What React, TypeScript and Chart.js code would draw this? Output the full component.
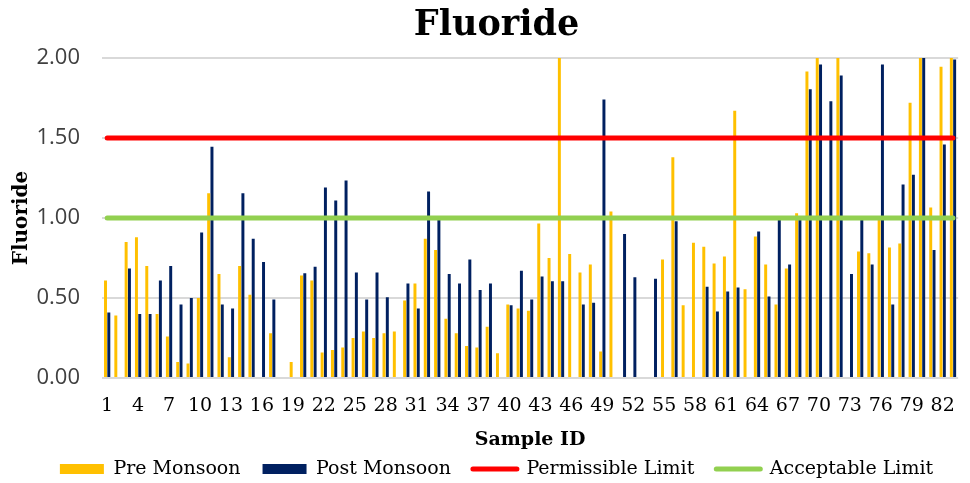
import { useEffect, useRef } from "react";
import { Chart, registerables } from "chart.js";

Chart.register(...registerables);

const SAMPLE_IDS = [
  "1", "2", "3", "4", "5", "6", "7", "8", "9", "10",
  "11", "12", "13", "14", "15", "16", "17", "18", "19", "20",
  "21", "22", "23", "24", "25", "26", "27", "28", "29", "30",
  "31", "32", "33", "34", "35", "36", "37", "38", "39", "40",
  "41", "42", "43", "44", "45", "46", "47", "48", "49", "50",
  "51", "52", "53", "54", "55", "56", "57", "58", "59", "60",
  "61", "62", "63", "64", "65", "66", "67", "68", "69", "70",
  "71", "72", "73", "74", "75", "76", "77", "78", "79", "80",
  "81", "82", "83",
];

const PRE_MONSOON = [
  0.61, 0.39, 0.85, 0.88, 0.7, 0.4, 0.26, 0.1, 0.09, 0.5,
  1.155, 0.65, 0.13, 0.7, 0.52, 0, 0.28, 0, 0.1, 0.64,
  0.61, 0.16, 0.175, 0.19, 0.25, 0.29, 0.25, 0.28, 0.29, 0.485,
  0.59, 0.87, 0.8, 0.37, 0.28, 0.2, 0.19, 0.32, 0.155, 0.46,
  0.435, 0.42, 0.965, 0.75, 2.0, 0.775, 0.66, 0.71, 0.165, 1.04,
  0, 0, 0, 0, 0.74, 1.38, 0.455, 0.845, 0.82, 0.715,
  0.76, 1.67, 0.555, 0.885, 0.71, 0.46, 0.685, 1.03, 1.915, 2.0,
  0, 2.0, 0, 0.79, 0.78, 0.99, 0.815, 0.84, 1.72, 2.0,
  1.065, 1.945, 2.0,
];

const POST_MONSOON = [
  0.41, 0, 0.685, 0.4, 0.4, 0.61, 0.7, 0.46, 0.5, 0.91,
  1.445, 0.46, 0.435, 1.155, 0.87, 0.725, 0.49, 0, 0, 0.655,
  0.695, 1.19, 1.11, 1.235, 0.66, 0.49, 0.66, 0.505, 0, 0.59,
  0.435, 1.165, 0.99, 0.65, 0.59, 0.74, 0.55, 0.59, 0, 0.455,
  0.67, 0.49, 0.635, 0.605, 0.605, 0, 0.46, 0.47, 1.74, 0,
  0.9, 0.63, 0, 0.62, 0, 0.98, 0, 0, 0.57, 0.415,
  0.54, 0.565, 0, 0.915, 0.51, 0.99, 0.71, 0.99, 1.805, 1.96,
  1.73, 1.89, 0.65, 0.99, 0.71, 1.96, 0.46, 1.21, 1.27, 2.0,
  0.8, 1.46, 1.99,
];

const PERMISSIBLE_LIMIT = 1.5;
const ACCEPTABLE_LIMIT = 1.0;

const Y_MIN = 0;
const Y_MAX = 2;
const Y_STEP = 0.5;

const YELLOW = "#FFC000";
const NAVY = "#002060";
const RED = "#FF0000";
const GREEN = "#92D050";

const SERIF = "DejaVu Serif";

export default function App() {
  const ref = useRef<HTMLCanvasElement>(null);

  useEffect(() => {
    if (!ref.current) return;
    const first = SAMPLE_IDS[0];
    const last = SAMPLE_IDS[SAMPLE_IDS.length - 1];
    const legendColors = [YELLOW, NAVY, RED, GREEN];
    const chart = new Chart(ref.current, {
      type: "bar",
      data: {
        labels: SAMPLE_IDS,
        datasets: [
          {
            type: "bar",
            label: "Pre Monsoon",
            data: PRE_MONSOON,
            backgroundColor: YELLOW,
            categoryPercentage: 0.64,
            barPercentage: 0.9,
            order: 1,
          },
          {
            type: "bar",
            label: "Post Monsoon",
            data: POST_MONSOON,
            backgroundColor: NAVY,
            categoryPercentage: 0.64,
            barPercentage: 0.9,
            order: 1,
          },
          {
            type: "line",
            label: "Permissible Limit",
            data: [
              { x: first, y: PERMISSIBLE_LIMIT },
              { x: last, y: PERMISSIBLE_LIMIT },
            ],
            borderColor: RED,
            backgroundColor: RED,
            borderWidth: 5,
            borderCapStyle: "round",
            pointRadius: 0,
            order: 0,
          },
          {
            type: "line",
            label: "Acceptable Limit",
            data: [
              { x: first, y: ACCEPTABLE_LIMIT },
              { x: last, y: ACCEPTABLE_LIMIT },
            ],
            borderColor: GREEN,
            backgroundColor: GREEN,
            borderWidth: 5,
            borderCapStyle: "round",
            pointRadius: 0,
            order: 0,
          },
        ] as any,
      },
      options: {
        animation: false,
        responsive: true,
        maintainAspectRatio: false,
        devicePixelRatio: 1,
        layout: { padding: { left: 24, right: 1, top: 0, bottom: -5.5 } },
        plugins: {
          tooltip: { enabled: false },
          title: {
            display: true,
            text: "Fluoride",
            color: "#000",
            font: { family: SERIF, size: 35, weight: "bold" },
            padding: { top: 5, bottom: 11 },
          },
          legend: {
            position: "bottom",
            labels: {
              usePointStyle: true,
              pointStyleWidth: 44,
              boxHeight: 10,
              padding: 22,
              color: "#000",
              font: { family: SERIF, size: 19 },
              generateLabels: (c: any) =>
                c.data.datasets.map((ds: any, i: number) => {
                  const isLine = ds.type === "line";
                  return {
                    text: ds.label,
                    datasetIndex: i,
                    fillStyle: legendColors[i],
                    strokeStyle: legendColors[i],
                    lineWidth: isLine ? 5 : 0,
                    lineCap: "round",
                    pointStyle: isLine ? "line" : "rect",
                    hidden: false,
                    fontColor: "#000",
                  };
                }),
            },
          },
        },
        scales: {
          x: {
            grid: { display: false, drawTicks: false },
            border: { display: false },
            ticks: {
              autoSkip: false,
              maxRotation: 0,
              minRotation: 0,
              padding: 17,
              color: "#000",
              font: { family: SERIF, size: 19 },
              callback: (_v: any, i: number) => (i % 3 === 0 ? SAMPLE_IDS[i] : ""),
            },
            title: {
              display: true,
              text: "Sample ID",
              color: "#000",
              font: { family: SERIF, size: 19, weight: "bold" },
              padding: { top: 0, bottom: -13.9 },
            },
            afterFit: (s: any) => {
              s.height = 59.5;
            },
          },
          y: {
            min: Y_MIN,
            max: Y_MAX,
            grid: { color: "#d9d9d9", lineWidth: 2, drawTicks: false },
            border: { display: false },
            ticks: {
              stepSize: Y_STEP,
              padding: 22,
              color: "#404040",
              font: { family: "Open Sans", size: 22 },
              callback: (v: any) => Number(v).toFixed(2),
            },
            title: {
              display: true,
              text: "Fluoride",
              color: "#000",
              font: { family: SERIF, size: 20, weight: "bold" },
              padding: { top: -14, bottom: 0 },
            },
            afterFit: (s: any) => {
              s.width = 78;
            },
          },
        } as any,
      },
    });
    return () => chart.destroy();
  }, []);

  return (
    <div style={{ position: "fixed", left: 0, top: 0, width: 970, height: 483, background: "#fff" }}>
      <canvas ref={ref} />
    </div>
  );
}
